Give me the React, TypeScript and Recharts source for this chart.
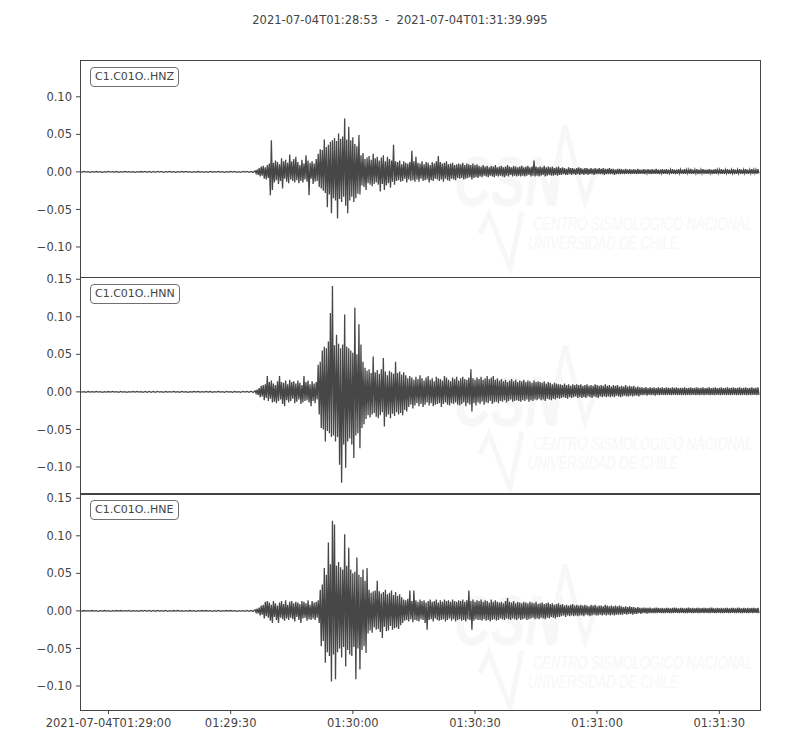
import React from "react";
import { Line, LineChart, XAxis, YAxis } from "recharts";

// pre-event noise every 0.5 s from 01:28:53, then the event every 0.25 s from 01:29:36
// amplitudes are in thousandths
const QUIET_STEP = 0.5;
const EVENT_START = 43;
const EVENT_STEP = 0.25;
const TIME_END = 167;

const hnzQuiet = [
  0.4, -0.3, 0.5, -0.4, 0.3, -0.5, 0.4, -0.3, 0.5, -0.3, 0.4, -0.5, 0.3, -0.4, 0.6, -0.4, 0.3, -0.3, 0.5, -0.5,
  0.3, -0.4, 0.5, -0.3, 0.4, -0.3, 0.3, -0.5, 0.4, -0.3, 0.5, -0.3, 0.7, -0.5, 0.7, -0.6, 0.5, -0.5, 0.6, -0.4,
  0.5, -0.5, 0.3, -0.4, 0.5, -0.3, 0.4, -0.5, 0.3, -0.4, 0.5, -0.3, 0.5, -0.4, 0.3, -0.5, 0.4, -0.3, 0.5, -0.3,
  0.4, -0.5, 0.3, -0.5, 0.5, -0.3, 0.4, -0.4, 0.5, -0.3, 0.3, -0.5, 0.4, -0.3, 0.5, -0.4, 0.5, -0.5, 0.4, -0.5,
  0.5, -0.4, 0.6, -0.5, 0.7, -0.7,
];
const hnzEvent = [
  1.5, -2, 3, -4, 5, -6, 7, -5, 8, -9, 6, -10, 9, -8, 11, -31, 42, -24, 12, -14,
  15, -11, 13, -16, 10, -12, 18, -22, 14, -9, 16, -13, 12, -15, 23, -10, 14, -12, 17, -14,
  20, -11, 13, -15, 9, -12, 16, -14, 11, -10, 22, -13, 15, -31, 12, -9, 14, -16, 11, -13,
  17, -12, 24, -20, 30, -22, 29, -25, 43, -28, 33, -47, 36, -30, 40, -55, 42, -35, 45, -38,
  41, -62, 51, -36, 44, -40, 47, -33, 71, -45, 43, -55, 60, -38, 42, -33, 46, -40, 37, -35,
  34, -29, 49, -30, 22, -18, 25, -20, 17, -24, 19, -15, 21, -17, 16, -19, 24, -16, 18, -14,
  20, -17, 15, -26, 19, -16, 22, -24, 14, -18, 20, -15, 17, -21, 15, -13, 36, -17, 14, -12,
  13, -11, 15, -13, 10, -12, 14, -9, 12, -14, 11, -10, 13, -12, 28, -11, 14, -13, 20, -10,
  12, -13, 11, -9, 14, -12, 10, -11, 13, -10, 12, -14, 9, -11, 13, -12, 11, -9, 14, -10,
  21, -12, 13, -10, 11, -13, 12, -9, 14, -11, 10, -12, 11, -9, 12, -10, 9, -11, 10, -8,
  11, -9, 10, -8, 12, -10, 9, -9, 11, -8, 10, -7, 9, -10, 11, -8, 9, -7, 10, -8,
  8, -6, 7, -7, 9, -5, 7, -6, 8, -7, 6, -5, 8, -6, 7, -7, 9, -5, 6, -6,
  7, -5, 8, -6, 6, -7, 7, -5, 9, -6, 7, -4, 6, -6, 8, -5, 7, -6, 6, -5,
  7, -6, 8, -5, 6, -6, 7, -5, 8, -4, 6, -6, 7, -5, 15, -6, 7, -5, 6, -6,
  7, -5, 6, -4, 8, -6, 6, -5, 7, -4, 6, -5, 7, -5, 5, -4, 6, -5, 7, -4,
  5, -4, 6, -3, 5, -4, 4, -4, 6, -3, 5, -4, 5, -3, 4, -4, 5, -3, 6, -4,
  5, -3, 4, -4, 5, -3, 5, -4, 4, -3, 5, -3, 4, -4, 5, -3, 4, -3, 5, -3,
  4, -3, 5, -4, 4, -3, 4, -3, 5, -3, 4, -3, 4, -4, 3, -3, 4, -3, 4, -3,
  3.5, -2.5, 3, -3, 4, -2.5, 3, -2.5, 3.5, -3, 3, -2.5, 3.5, -2.5, 3, -3, 4, -2.5, 3, -2.5,
  3, -2.5, 3.5, -3, 3, -2, 3.5, -2.5, 3, -3, 3.5, -2.5, 3, -2.5, 4, -2.5, 3, -3, 3, -2,
  3.5, -2.5, 3, -2.5, 3.5, -3, 3, -2, 3, -2.5, 3.5, -2.5, 3, -3, 3, -2.5, 3.5, -2, 3, -2.5,
  3, -2.5, 3.5, -2.5, 3, -2, 3, -2.5, 4, -2.5, 3, -2.5, 3, -2, 3.5, -3, 3, -2.5, 3, -2,
  3.5, -2.5, 3, -2.5, 3, -2.5, 3.5, -2, 3, -3, 3, -2.5, 3.5, -2.5, 3, -2, 3, -2.5, 3.5, -2.5,
  3, -2.5, 3, -2, 3.5, -2.5, 3, -2.5, 3, -2, 3.5, -3, 3, -2.5, 3, -2, 3.5, -2.5, 3, -2.5,
  3, -2, 3.5, -2.5, 3, -2.5, 3, -2, 3.5, -2.5, 3, -2, 3, -2.5, 3.5, -2,
];

const hnnQuiet = [
  0.4, -0.3, 0.3, -0.5, 0.5, -0.3, 0.4, -0.3, 0.5, -0.4, 0.3, -0.5, 0.4, -0.3, 0.5, -0.3, 0.5, -0.4, 0.3, -0.5,
  0.5, -0.3, 0.4, -0.5, 0.3, -0.4, 0.5, -0.3, 0.5, -0.4, 0.4, -0.5, 0.6, -0.5, 0.6, -0.5, 0.6, -0.5, 0.5, -0.4,
  0.3, -0.5, 0.5, -0.3, 0.4, -0.4, 0.5, -0.3, 0.4, -0.5, 0.5, -0.4, 0.3, -0.5, 0.4, -0.3, 0.5, -0.4, 0.5, -0.3,
  0.3, -0.4, 0.5, -0.3, 0.5, -0.5, 0.3, -0.4, 0.5, -0.3, 0.4, -0.5, 0.5, -0.4, 0.3, -0.5, 0.5, -0.3, 0.4, -0.5,
  0.5, -0.4, 0.6, -0.5, 0.8, -0.8,
];
const hnnEvent = [
  1.5, -2, 3, -4, 5, -7, 8, -6, 9, -11, 10, -8, 21, -12, 13, -9, 15, -14, 11, -13,
  9, -15, 14, -12, 21, -10, 13, -16, 12, -19, 15, -11, 10, -14, 16, -12, 13, -9, 14, -15,
  11, -13, 15, -10, 12, -16, 9, -14, 21, -12, 13, -11, 15, -14, 10, -19, 14, -12, 11, -15,
  13, -10, 36, -30, 40, -48, 55, -50, 60, -66, 58, -52, 67, -55, 105, -60, 141, -58, 62, -66,
  76, -60, 64, -97, 58, -121, 63, -70, 103, -101, 60, -66, 58, -62, 55, -70, 52, -88, 112, -58,
  50, -55, 90, -75, 63, -48, 40, -43, 32, -36, 28, -31, 30, -34, 25, -30, 47, -28, 26, -33,
  29, -35, 24, -31, 30, -27, 45, -46, 27, -33, 22, -30, 28, -35, 26, -29, 24, -32, 40, -27,
  25, -30, 27, -28, 23, -31, 26, -24, 22, -26, 18, -20, 21, -17, 19, -22, 16, -18, 20, -15,
  17, -19, 22, -16, 18, -20, 15, -17, 19, -14, 21, -18, 16, -15, 18, -19, 14, -17, 20, -16,
  18, -15, 17, -20, 15, -16, 21, -14, 19, -17, 16, -18, 14, -15, 19, -16, 17, -14, 20, -17,
  15, -18, 18, -16, 20, -14, 17, -19, 16, -15, 19, -17, 30, -26, 18, -15, 16, -18, 19, -14,
  17, -16, 20, -13, 16, -17, 18, -14, 21, -15, 17, -12, 19, -16, 21, -14, 16, -13, 18, -15,
  15, -12, 17, -13, 14, -11, 16, -14, 13, -12, 15, -10, 17, -13, 14, -12, 16, -11, 13, -12,
  15, -13, 14, -11, 16, -12, 13, -10, 15, -13, 14, -11, 12, -12, 15, -10, 13, -11, 14, -9,
  13, -11, 12, -10, 14, -12, 11, -9, 13, -10, 12, -11, 10, -9, 12, -10, 11, -8, 10, -9,
  10, -8, 9, -7, 11, -8, 9, -9, 10, -7, 8, -8, 10, -7, 9, -6, 10, -8, 9, -7,
  10, -8, 8, -7, 9, -8, 10, -6, 8, -7, 9, -8, 8, -6, 10, -7, 9, -8, 8, -6,
  9, -7, 8, -6, 10, -7, 8, -6, 9, -7, 7, -6, 9, -7, 8, -5, 9, -6, 7, -7,
  8, -6, 7, -5, 9, -6, 7, -6, 8, -5, 7, -6, 8, -5, 6, -5, 7, -6, 6, -4.5,
  6, -4.5, 5.5, -4, 6.5, -5, 5, -4, 6, -4.5, 5.5, -4, 6, -5, 5, -4, 6, -4.5, 5.5, -4,
  6, -4, 5, -4.5, 6, -4, 5.5, -4, 5, -4.5, 6, -4, 5.5, -4, 6, -4.5, 5, -4, 5.5, -4.5,
  5.5, -4, 6, -4.5, 5, -4, 5.5, -4.5, 6, -4, 5, -4, 5.5, -4.5, 6, -4, 5, -4.5, 5.5, -4,
  6, -4.5, 5, -4, 5.5, -4, 6, -4.5, 5, -4, 5.5, -4.5, 6, -4, 5, -4, 5.5, -4.5, 6, -4,
  5, -4, 5.5, -4.5, 6, -4, 5, -4.5, 5.5, -4, 6, -4, 5, -4.5, 5.5, -4, 6, -4.5, 5, -4,
  5.5, -4, 6, -4.5, 5, -4, 5.5, -4.5, 6, -4, 5, -4, 5.5, -4.5, 6, -4,
];

const hneQuiet = [
  0.3, -0.4, 0.5, -0.3, 0.4, -0.3, 0.5, -0.4, 0.3, -0.5, 0.4, -0.3, 0.5, -0.3, 0.3, -0.5, 0.4, -0.4, 0.5, -0.3,
  0.5, -0.4, 0.3, -0.3, 0.5, -0.5, 0.4, -0.3, 0.3, -0.5, 0.5, -0.4, 0.6, -0.6, 0.5, -0.6, 0.6, -0.5, 0.5, -0.4,
  0.4, -0.3, 0.5, -0.5, 0.3, -0.4, 0.5, -0.3, 0.5, -0.4, 0.3, -0.5, 0.4, -0.3, 0.5, -0.4, 0.3, -0.5, 0.4, -0.3,
  0.5, -0.4, 0.5, -0.3, 0.4, -0.5, 0.3, -0.4, 0.5, -0.5, 0.4, -0.3, 0.5, -0.4, 0.5, -0.3, 0.4, -0.5, 0.3, -0.4,
  0.4, -0.5, 0.5, -0.6, 0.7, -0.7,
];
const hneEvent = [
  1.5, -2, 3, -3.5, 4.5, -6, 7, -5, 8, -10, 12, -7, 13, -9, 11, -13, 8, -16, 13, -8,
  10, -12, 7, -16, 11, -9, 13, -11, 9, -13, 14, -10, 8, -12, 12, -9, 13, -11, 10, -14,
  12, -8, 11, -12, 9, -16, 13, -10, 12, -9, 10, -13, 14, -11, 8, -12, 13, -10, 11, -12,
  12, -9, 14, -16, 28, -47, 35, -40, 57, -69, 48, -55, 91, -60, 62, -94, 120, -58, 115, -91,
  60, -55, 65, -50, 58, -62, 55, -48, 102, -74, 60, -52, 84, -58, 55, -60, 50, -48, 52, -91,
  71, -50, 48, -78, 45, -52, 55, -47, 40, -56, 57, -30, 28, -26, 24, -29, 26, -22, 27, -25,
  40, -24, 26, -28, 23, -36, 25, -21, 28, -27, 22, -26, 24, -20, 27, -25, 21, -23, 25, -22,
  20, -24, 22, -19, 18, -16, 15, -13, 14, -12, 16, -14, 27, -11, 13, -15, 27, -12, 14, -13,
  12, -14, 15, -11, 13, -12, 14, -16, 11, -25, 13, -12, 15, -11, 12, -14, 13, -10, 15, -12,
  11, -13, 14, -12, 12, -11, 15, -14, 13, -12, 14, -10, 12, -13, 15, -11, 13, -14, 12, -12,
  14, -11, 13, -13, 15, -12, 12, -14, 14, -11, 27, -12, 13, -25, 15, -13, 12, -11, 14, -12,
  13, -12, 15, -13, 12, -11, 14, -13, 13, -12, 11, -14, 15, -12, 12, -11, 14, -13, 12, -12,
  11, -10, 12, -11, 10, -12, 13, -10, 17, -11, 12, -12, 11, -10, 13, -11, 10, -12, 12, -10,
  11, -12, 10, -11, 12, -10, 11, -12, 10, -11, 12, -10, 11, -9, 10, -11, 12, -10, 9, -11,
  10, -9, 11, -10, 9, -11, 10, -9, 11, -10, 9, -8, 10, -9, 8, -10, 9, -8, 10, -8,
  8, -7, 9, -6, 7, -8, 8, -6, 7, -7, 8, -6, 9, -7, 7, -6, 8, -7, 7, -6,
  8, -6, 7, -7, 8, -5, 7, -6, 6, -7, 8, -6, 7, -5, 8, -6, 6, -6, 7, -5,
  7, -6, 6, -5, 8, -6, 7, -5, 6, -6, 7, -5, 6, -6, 7, -5, 6, -5, 7, -5,
  6, -5, 5, -4, 6, -5, 5, -4, 6, -4, 5, -5, 5, -4, 4, -4, 5, -3, 4, -4,
  4, -3, 4.5, -3, 4, -3.5, 4, -3, 4.5, -3, 3.5, -3, 4, -3, 4.5, -3, 4, -2.5, 3.5, -3,
  4, -3, 3.5, -3, 4, -2.5, 4, -3, 3.5, -3, 4, -3, 4.5, -2.5, 4, -3, 3.5, -3, 4, -2.5,
  4, -3, 3.5, -3, 4, -3, 4.5, -2.5, 3.5, -3, 4, -3, 3.5, -2.5, 4, -3, 4, -3, 3.5, -2.5,
  4, -3, 4, -2.5, 3.5, -3, 4, -3, 4.5, -2.5, 4, -3, 3.5, -3, 4, -2.5, 3.5, -3, 4, -3,
  3.5, -3, 4, -2.5, 4, -3, 3.5, -3, 4, -2.5, 4, -3, 3.5, -3, 4.5, -2.5, 4, -3, 3.5, -3,
  4, -2.5, 3.5, -3, 4, -3, 3.5, -2.5, 4, -3, 4, -2.5, 3.5, -3, 4, -3,
];

const channels = ["C1.C01O..HNZ", "C1.C01O..HNN", "C1.C01O..HNE"];
const quietSamples = [hnzQuiet, hnnQuiet, hneQuiet];
const eventSamples = [hnzEvent, hnnEvent, hneEvent];
const yDomains: [number, number][] = [[-0.14, 0.149], [-0.136, 0.153], [-0.132, 0.157]];
const yTicksShort = [-0.1, -0.05, 0, 0.05, 0.1];
const yTicksLong = [-0.1, -0.05, 0, 0.05, 0.1, 0.15];
const xTicks = [7, 37, 67, 97, 127, 157];
const xTickLabels = ["2021-07-04T01:29:00", "01:29:30", "01:30:00", "01:30:30", "01:31:00", "01:31:30"];
const title = "2021-07-04T01:28:53  -  2021-07-04T01:31:39.995";

const INK = "#444";
const WAVE = "#474747";
const MARK = "#f7f7f7";
const FONT = "DejaVu Sans";
const PANEL_H = 217;
const panelTops = [60, 277, 493];

const fmtY = (v: number) => v.toFixed(2).replace("-", "\u2212");
const fmtX = (v: number) => xTickLabels[xTicks.indexOf(v)] ?? "";

const buildTrace = (quiet: number[], event: number[]) => [
  ...quiet.map((v, i) => ({ t: i * QUIET_STEP, v: v / 1000 })),
  ...event.map((v, j) => ({ t: EVENT_START + j * EVENT_STEP, v: v / 1000 })),
];

// faint CSN logo behind each trace, squeezed horizontally
const Watermark = ({ zeroY }: { zeroY: number }) => (
  <svg width={800} height={PANEL_H} style={{ position: "absolute", left: 0, top: 0 }}>
    <polyline
      points={`480,${zeroY + 62} 489,${zeroY + 42} 510,${zeroY + 96} 522,${zeroY + 40}`}
      fill="none" stroke={MARK} strokeWidth={5}
    />
    <polyline
      points={`548,${zeroY + 30} 565,${zeroY - 46} 585,${zeroY + 30} 595,${zeroY}`}
      fill="none" stroke={MARK} strokeWidth={5}
    />
    <g fill={MARK} fontFamily="Liberation Sans" fontStyle="italic">
      <text transform={`translate(454 ${zeroY + 34}) scale(0.73 1)`} fontSize={70} fontWeight="bold" textLength={148} lengthAdjust="spacingAndGlyphs">CSN</text>
      <text transform={`translate(533 ${zeroY + 58}) scale(0.68 1)`} fontSize={19} textLength={323} lengthAdjust="spacingAndGlyphs">CENTRO SISMOLOGICO NACIONAL</text>
      <text transform={`translate(528 ${zeroY + 77}) scale(0.68 1)`} fontSize={19} textLength={221} lengthAdjust="spacingAndGlyphs">UNIVERSIDAD DE CHILE</text>
    </g>
  </svg>
);

const Panel = ({ index }: { index: number }) => {
  const data = buildTrace(quietSamples[index], eventSamples[index]);
  const [lo, hi] = yDomains[index];
  const showX = index === channels.length - 1;
  const zeroY = (PANEL_H * hi) / (hi - lo);
  const tickStyle = { fill: INK, fontSize: 11.5, fontFamily: FONT };
  const h = PANEL_H + (showX ? 34 : 0);
  return (
    <div style={{ position: "absolute", left: 0, top: panelTops[index], width: 800, height: h }}>
      <Watermark zeroY={zeroY} />
      <div style={{ position: "absolute", left: 0, top: 0 }}>
        <LineChart width={800} height={h} data={data} margin={{ top: 0, right: 40, bottom: 0, left: 20 }}>
          <XAxis
            dataKey="t" type="number" domain={[0, TIME_END]} ticks={xTicks} tickFormatter={fmtX}
            hide={!showX} height={34} axisLine={false} tickSize={4} tickMargin={5}
            tickLine={{ stroke: INK }} tick={tickStyle} allowDataOverflow interval={0}
          />
          <YAxis
            type="number" domain={[lo, hi]} ticks={index === 0 ? yTicksShort : yTicksLong} tickFormatter={fmtY}
            width={60} axisLine={false} tickSize={4} tickMargin={4} tickLine={{ stroke: INK }} tick={tickStyle}
            allowDataOverflow interval={0}
          />
          <Line dataKey="v" type="linear" dot={false} stroke={WAVE} strokeWidth={1.3} isAnimationActive={false} />
        </LineChart>
      </div>
      <div style={{ position: "absolute", left: 80, top: 0, width: 681, height: PANEL_H + 1, border: `1px solid ${INK}`, boxSizing: "border-box", pointerEvents: "none" }} />
      <div style={{ position: "absolute", left: 90, top: 7, height: 20, boxSizing: "border-box", padding: "0 4px", border: "1px solid #707070", borderRadius: 4, background: "#fff", color: INK, fontFamily: FONT, fontSize: 11, lineHeight: "18px" }}>
        {channels[index]}
      </div>
    </div>
  );
};

export default function App() {
  return (
    <div style={{ position: "absolute", left: 0, top: 0, width: 800, height: 750, background: "#fff" }}>
      <style>{".recharts-surface, .recharts-wrapper { overflow: visible; }"}</style>
      <div style={{ position: "absolute", top: 13, width: 800, textAlign: "center", color: INK, fontFamily: FONT, fontSize: 11.5, lineHeight: "14px", whiteSpace: "pre" }}>
        {title}
      </div>
      {channels.map((c, i) => <Panel key={c} index={i} />)}
    </div>
  );
}
